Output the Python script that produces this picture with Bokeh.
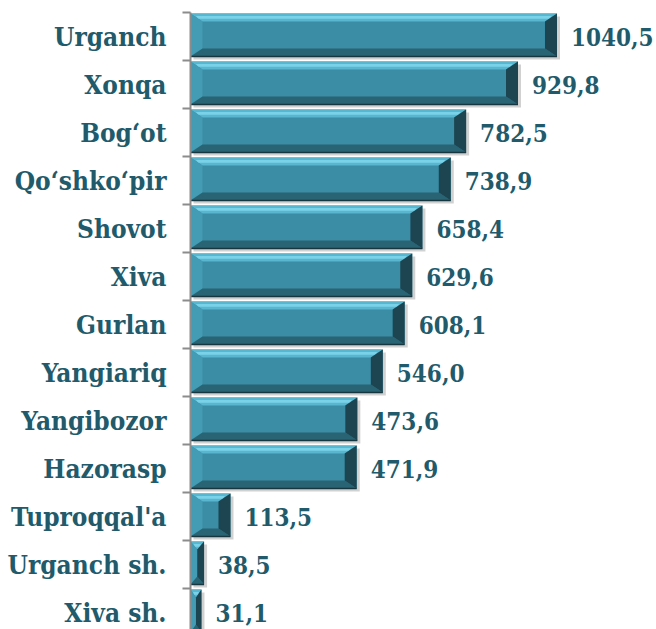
from bokeh.plotting import figure
from bokeh.models import Range1d, FixedTicker, ColumnDataSource
from bokeh.core.properties import value
from bokeh.embed import file_html
from bokeh.resources import INLINE

# ---- data ----
districts = ["Urganch", "Xonqa", "Bog\u2018ot", "Qo\u2018shko\u2018pir", "Shovot", "Xiva",
             "Gurlan", "Yangiariq", "Yangibozor", "Hazorasp", "Tuproqqal'a",
             "Urganch sh.", "Xiva sh."]
values = [1040.5, 929.8, 782.5, 738.9, 658.4, 629.6, 608.1, 546.0, 473.6, 471.9,
          113.5, 38.5, 31.1]
value_labels = [f"{v:.1f}".replace(".", ",") for v in values]

# ---- geometry ----
W, H = 656, 629
LEFT, TOP = 190, 12
X_END = 1323
Y_TOP = len(districts) - 0.5
FRAME_W = W - LEFT
FRAME_H = H - TOP
Y_BOT = Y_TOP - FRAME_H / 48.0
SX = FRAME_W / X_END
SY = FRAME_H / (Y_TOP - Y_BOT)

n = len(districts)
ypos = [n - 1 - i for i in range(n)]

TEXT = "#215B6B"
FONT_NAME = "DejaVu Serif Condensed"

p = figure(width=W, height=H, output_backend="svg", toolbar_location=None,
           x_range=Range1d(0, X_END), y_range=Range1d(Y_BOT, Y_TOP),
           x_axis_location=None, min_border_left=LEFT, min_border_top=TOP,
           min_border_right=0, min_border_bottom=0)
p.outline_line_color = None
p.xgrid.visible = False
p.ygrid.visible = False
p.background_fill_color = "white"
p.border_fill_color = "white"

bar_h = 43 / SY
y_shift = 1.5 / SY
sh_dx = 3 / SX
sh_dy = 3 / SY

shadow = ColumnDataSource(dict(y=[y + y_shift - sh_dy for y in ypos],
                               right=[v + sh_dx for v in values],
                               left=[sh_dx for v in values]))
p.hbar(y="y", left="left", right="right", height=bar_h, source=shadow,
       fill_color="#7a7a7a", fill_alpha=0.35, line_color=None)

face = ColumnDataSource(dict(y=[y + y_shift for y in ypos], right=values))
p.hbar(y="y", left=0, right="right", height=bar_h, source=face,
       fill_color="#3A8DA5", line_color=None)

top_xs, top_ys, bot_xs, bot_ys = [], [], [], []
lft_xs, lft_ys, rgt_xs, rgt_ys = [], [], [], []
hl_xs, hl_ys = [], []
for y, v in zip(ypos, values):
    c = y + y_shift
    t = c + bar_h / 2
    b = c - bar_h / 2
    bx = min(12.0, v * SX / 2) / SX
    by = 8.0 / SY
    top_xs.append([0, v, v - bx, bx]); top_ys.append([t, t, t - by, t - by])
    bot_xs.append([0, v, v - bx, bx]); bot_ys.append([b, b, b + by, b + by])
    lft_xs.append([0, bx, bx, 0]); lft_ys.append([t, t - by, b + by, b])
    rgt_xs.append([v, v, v - bx, v - bx]); rgt_ys.append([t, b, b + by, t - by])
    hb = by * 0.35
    hx = bx * 0.45
    hl_xs.append([hx, v - hx, v - hx - bx * 0.2, hx + bx * 0.2])
    hl_ys.append([t - by * 0.3, t - by * 0.3, t - by * 0.3 - hb, t - by * 0.3 - hb])

p.patches(top_xs, top_ys, fill_color="#58B6CE", line_color=None)
p.patches(hl_xs, hl_ys, fill_color="#7AD2E8", line_color=None)
p.patches(lft_xs, lft_ys, fill_color="#449CB4", line_color=None)
p.patches(bot_xs, bot_ys, fill_color="#286474", line_color=None)
p.patches(rgt_xs, rgt_ys, fill_color="#1C4551", line_color=None)

edge = ColumnDataSource(dict(y=[y + y_shift - bar_h / 2 for y in ypos], right=values))
p.hbar(y="y", left=0, right="right", height=1.5 / SY, source=edge,
       fill_color="#18363F", line_color=None)

lab = ColumnDataSource(dict(x=values, y=[y + 0.0 for y in ypos], t=value_labels))
p.text(x="x", y="y", text="t", source=lab, x_offset=14, text_baseline="middle",
       text_align="left", text_font=value(FONT_NAME), text_font_style="bold",
       text_font_size="24px", text_color=TEXT)

ax = p.yaxis[0]
ax.ticker = FixedTicker(ticks=ypos, minor_ticks=[y + 0.5 for y in ypos])
ax.major_label_overrides = {y: d for y, d in zip(ypos, districts)}
ax.major_label_text_font = FONT_NAME
ax.major_label_text_font_style = "bold"
ax.major_label_text_font_size = "26px"
ax.major_label_text_color = TEXT
ax.major_label_standoff = 16
ax.major_tick_out = 0
ax.major_tick_in = 0
ax.minor_tick_out = 8
ax.minor_tick_in = 0
ax.minor_tick_line_color = "#8C8C8C"
ax.minor_tick_line_width = 2
ax.axis_line_color = "#8C8C8C"
ax.axis_line_width = 2

open("out.html", "w").write(file_html(p, INLINE))
